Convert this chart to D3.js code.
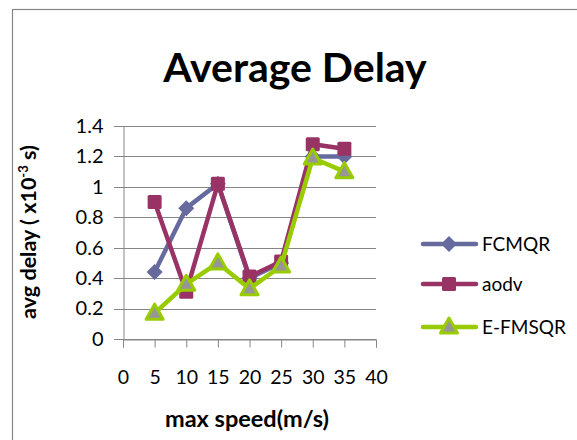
<!DOCTYPE html>
<html>
<head>
<meta charset="utf-8">
<script src="https://cdn.jsdelivr.net/npm/d3@7"></script>
<style>
  body { margin: 0; background: #fff; }
  text { font-family: Lato, "Open Sans", sans-serif; fill: #000; }
</style>
</head>
<body>
<div id="chart"></div>
<script>
const speeds = [5, 10, 15, 20, 25, 30, 35];
const fcmqr = [0.44, 0.86, 1.02, 0.40, 0.50, 1.20, 1.20];
const aodv = [0.90, 0.31, 1.02, 0.41, 0.51, 1.28, 1.25];
const efmsqr = [0.17, 0.36, 0.50, 0.33, 0.48, 1.19, 1.10];
const xTicks = [0, 5, 10, 15, 20, 25, 30, 35, 40];
const yTicks = [0, 0.2, 0.4, 0.6, 0.8, 1, 1.2, 1.4];

const width = 577, height = 440;
const plotLeft = 123, plotRight = 376, plotTop = 126, plotBottom = 339;

const svg = d3.select("#chart").append("svg")
    .attr("width", width)
    .attr("height", height);

// outer chart border
svg.append("rect")
    .attr("x", 12.5).attr("y", 9.5)
    .attr("width", 600).attr("height", 500)
    .attr("fill", "none")
    .attr("stroke", "#868686")
    .attr("stroke-width", 1.2);

const x = d3.scaleLinear().domain([0, 40]).range([plotLeft, plotRight]);
const y = d3.scaleLinear().domain([0, 1.4]).range([plotBottom, plotTop]);

// gridlines
svg.append("g")
    .selectAll("line")
    .data(yTicks)
    .enter()
    .append("line")
    .attr("x1", plotLeft - 9).attr("x2", plotRight)
    .attr("y1", d => Math.round(y(d)) + 0.5)
    .attr("y2", d => Math.round(y(d)) + 0.5)
    .attr("stroke", "#868686");

// axes
const xAxis = svg.append("g")
    .attr("transform", `translate(0,${plotBottom + 0.5})`)
    .call(d3.axisBottom(x).tickValues(xTicks).tickSize(8).tickPadding(23).tickFormat(d3.format("d")));
xAxis.select(".domain").attr("stroke", "#868686");
xAxis.selectAll(".tick line").attr("stroke", "#868686");
xAxis.selectAll("text").style("font-size", "19.5px").attr("fill", "#000");

const yAxis = svg.append("g")
    .attr("transform", `translate(${plotLeft + 0.5},0)`)
    .call(d3.axisLeft(y).tickValues(yTicks).tickSize(0).tickPadding(20).tickFormat(d => String(+d.toFixed(1))));
yAxis.select(".domain").attr("stroke", "#868686");
yAxis.selectAll("text").style("font-size", "20px").attr("fill", "#000");

// titles
svg.append("text")
    .attr("x", 295).attr("y", 82)
    .attr("text-anchor", "middle")
    .style("font-size", "41px")
    .style("font-weight", "bold")
    .text("Average Delay");

svg.append("text")
    .attr("x", 247).attr("y", 427)
    .attr("text-anchor", "middle")
    .style("font-size", "23.5px")
    .style("font-weight", "bold")
    .text("max speed(m/s)");

const yTitle = svg.append("text")
    .attr("transform", "translate(36,232) rotate(-90)")
    .attr("text-anchor", "middle")
    .style("font-size", "21.5px")
    .style("font-weight", "bold");
yTitle.append("tspan").text("avg delay ( x10");
yTitle.append("tspan").attr("dy", -8).style("font-size", "13px").text("-3");
yTitle.append("tspan").attr("dy", 8).text(" s)");

const series = [
    { name: "FCMQR", values: fcmqr, color: "#666a9f", fill: "#666a9f", shape: "diamond" },
    { name: "aodv", values: aodv, color: "#993366", fill: "#993366", shape: "square" },
    { name: "E-FMSQR", values: efmsqr, color: "#99cc00", fill: "#969696", shape: "triangle" }
];

function marker(g, s) {
    if (s.shape === "diamond") {
        g.append("path").attr("d", "M0,-8L8,0L0,8L-8,0Z").attr("fill", s.fill);
    } else if (s.shape === "square") {
        g.append("rect").attr("x", -7).attr("y", -7).attr("width", 14).attr("height", 14)
            .attr("rx", 1.5).attr("fill", s.fill);
    } else {
        g.append("path").attr("d", "M0,-9L8.5,6L-8.5,6Z")
            .attr("fill", s.fill).attr("stroke", s.color).attr("stroke-width", 3)
            .attr("stroke-linejoin", "round");
    }
}

const line = d3.line().x(d => x(d[0])).y(d => y(d[1]));

series.forEach(s => {
    const pts = speeds.map((v, i) => [v, s.values[i]]);
    svg.append("path")
        .datum(pts)
        .attr("d", line)
        .attr("fill", "none")
        .attr("stroke", s.color)
        .attr("stroke-width", 4.5)
        .attr("stroke-linejoin", "round");
    svg.append("g").selectAll("g")
        .data(pts)
        .enter()
        .append("g")
        .attr("transform", d => `translate(${x(d[0])},${y(d[1])})`)
        .each(function () { marker(d3.select(this), s); });
});

// legend
const legend = svg.selectAll(".legend")
    .data(series)
    .enter()
    .append("g")
    .attr("class", "legend")
    .attr("transform", (d, i) => `translate(449,${[244, 284, 327][i]})`);

legend.append("line")
    .attr("x1", -26).attr("x2", 27)
    .attr("stroke", d => d.color)
    .attr("stroke-width", 4.5)
    .attr("stroke-linecap", "round");
legend.each(function (d) { marker(d3.select(this), d); });
legend.append("text")
    .attr("x", 33).attr("dy", "0.35em")
    .style("font-size", "19px")
    .text(d => d.name);
</script>
</body>
</html>
